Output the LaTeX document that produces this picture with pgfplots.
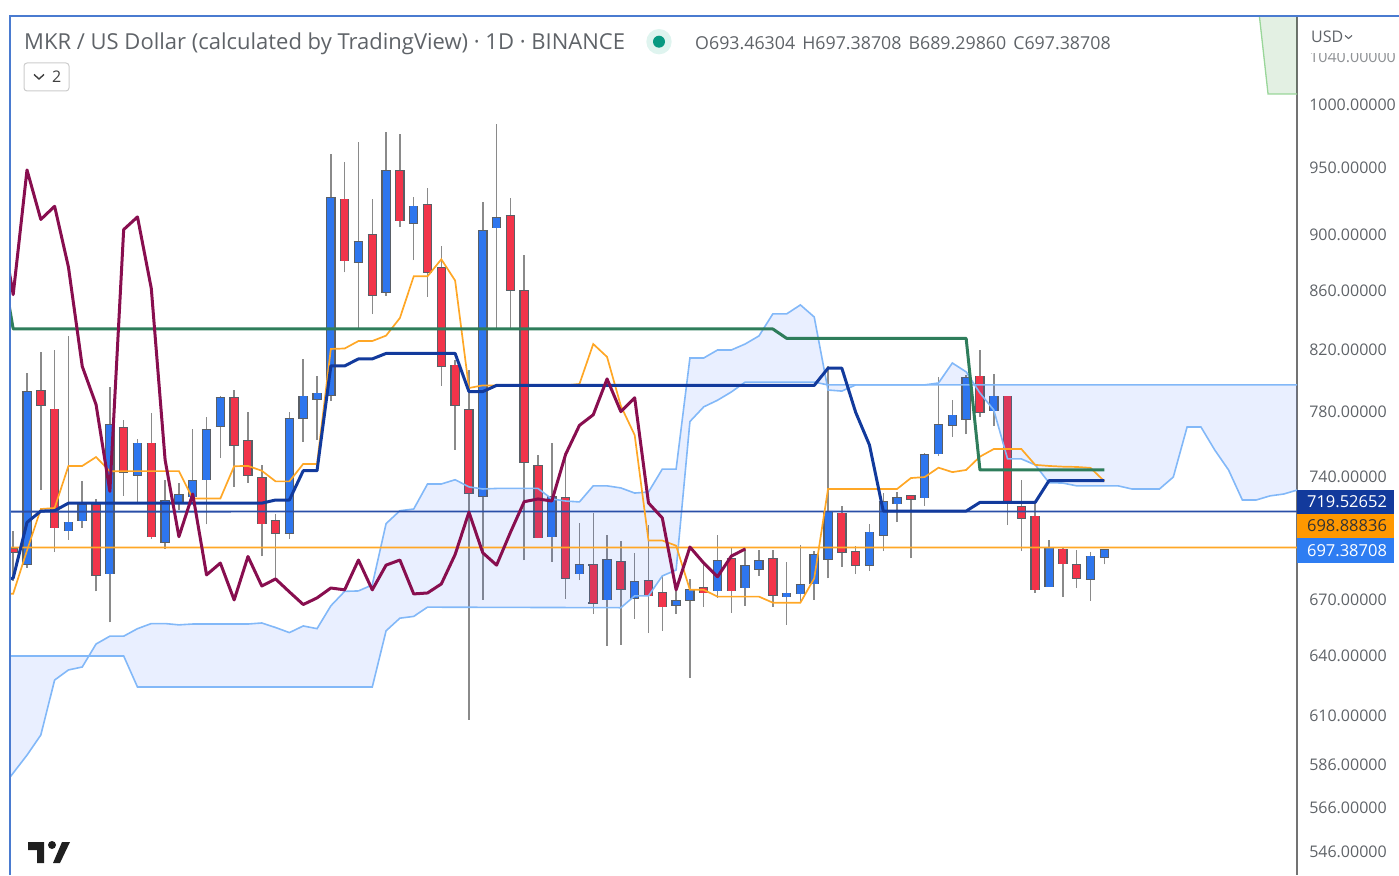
\documentclass[border=0pt]{standalone}
\usepackage{pgfplots}
\usepackage{pgfplotstable}
\usepackage{fontspec}
\setmainfont{Open Sans}
\pgfplotsset{compat=1.18}
\definecolor{cblue}{HTML}{2E76EE}
\definecolor{cred}{HTML}{F2344A}
\definecolor{cedge}{HTML}{5A5F66}
\definecolor{cwick}{HTML}{8A8A8A}
\definecolor{kumo}{HTML}{82B8F8}
\definecolor{kumofill}{HTML}{2962FF}
\definecolor{corange}{HTML}{FFA726}
\definecolor{cnavy}{HTML}{123A9C}
\definecolor{clevel}{HTML}{2A4FA8}
\definecolor{cgreen}{HTML}{2E7D5B}
\definecolor{cmaroon}{HTML}{880E4F}
\definecolor{txt}{HTML}{5F6368}
\definecolor{border}{HTML}{4A7BD0}
\definecolor{plabel}{HTML}{2E7DF2}
\definecolor{olabel}{HTML}{FF9800}
\definecolor{dotbg}{HTML}{DFF4EF}
\definecolor{dotfg}{HTML}{089981}
\pgfplotstableread{
i o h l c
0 689.4 805 687.4 792.7
3 708.4 829.6 703.3 713.2
4 714.2 737.3 710.1 723.6
6 684.2 795.9 657.7 771.8
8 741.1 763.3 724.6 760.4
10 702 738.3 698.2 725.7
11 724.6 736.3 720.5 729.2
12 728.2 769.5 726.9 737.7
13 738.3 776.8 712.1 768.8
14 770.9 790.1 751.3 788.9
19 706.8 780.1 703.9 775.6
20 776.2 814.1 761.5 789.8
21 787.9 803 762.6 791.9
22 790.7 961.4 786.9 927.6
24 880.2 970.5 834.8 895
26 859.5 978.4 856.9 948.2
28 908.5 927.9 882 921.2
33 728.7 924.5 669.8 903.1
34 905.3 984.7 834.8 912.6
38 705 760.6 690.9 728.1
40 684.3 713 680.7 689
42 670 706.2 645.4 692
44 670.9 695.7 659.7 679.6
47 667.1 675.3 662.2 669.3
48 669.8 681.3 629 675.3
50 674.9 705.9 670.9 691.4
52 676.5 698.5 666.7 688.5
53 686.8 697.4 683.1 691.4
55 671.6 690.9 656.4 673.4
56 673.2 700.3 668.9 678
57 678.7 697 669.8 694.6
58 692.4 809.5 681.6 719
61 689 712.1 685.7 707.5
62 705.9 730.3 696.9 725.1
63 724.1 731.2 713.3 727.5
65 727.7 754.5 723 753.2
66 753.9 802.2 752.8 771.8
67 771.8 787.5 764.4 778
68 775.3 803.6 766 801.9
70 780.8 804.1 771.3 789.9
74 677 703.1 677 698.7
77 681.1 696.5 669.3 693.9
78 693.46 697.39 689.3 697.39
}\upcandles
\pgfplotstableread{
i o h l c
-1 698.2 708 680.2 696.3
1 793.5 818.7 732.4 784.3
2 781.6 820 696.3 710.1
5 723.6 727.1 674.5 683.5
7 770 774.9 728.8 743
9 760.4 779.4 703.9 705
15 788.9 793.7 734 759.4
16 762 780.1 736.6 741.1
17 739.4 747.4 693.8 712.5
18 714.2 717.9 681.8 706.8
23 926.5 955 873.2 881.5
25 900.2 926.5 844.1 857.4
27 948.2 976.6 906 910.6
29 922.3 934.6 856.1 873.2
30 876.4 891.9 796.7 809.2
31 809.9 813.4 756.3 784.3
32 781.2 806.9 607.8 730.4
35 913.9 927.5 834.8 860.9
36 860.2 885.8 691.8 749
37 746.6 753.3 704 704.4
39 727.7 753.3 670.3 681.8
41 689 718.8 662.2 668.2
43 690.7 702.8 646 675.8
45 680.2 711.9 652 672.1
46 673.6 683.5 653.2 666.1
49 676.5 690.1 666.2 673.8
51 692.4 699.1 662.9 674.9
54 692.4 697.4 666.2 672.5
59 718.5 722.8 688.1 696.1
60 696.4 699.7 684 689
64 728.7 729.2 692.8 726.7
69 802.8 820 776.6 779.9
71 789.9 789.9 711.6 725.3
72 722.4 738.1 696.9 715.8
73 716.8 725.1 673.8 675.4
75 697.9 698.5 671.6 689.7
76 689 697.4 676.2 681.8
}\downcandles
\pgfplotstableread{
i p
-2 573.8
-1 582.2
0 590.7
1 600.4
2 627.7
3 632.9
4 634.4
5 646.3
6 650.4
7 650.4
8 654.4
9 657.1
10 657.1
11 656.4
12 656.9
16 656.9
17 657.4
18 655
19 652.3
20 655.8
21 654.4
22 666.6
23 674.5
24 674.7
25 678
26 712.5
27 720
28 721
29 735.7
30 735.7
31 738.3
32 734
33 732.8
34 733.1
37 733.1
38 726.9
39 725.7
40 725.1
41 734.6
42 734.6
43 733.4
44 730.4
45 731
46 744.7
47 744.7
48 814.7
49 814.7
50 820
51 820
52 824
53 829.4
54 844.3
55 844.3
56 850.5
57 842.2
58 794
59 793.3
60 797.2
65 797.2
66 798.5
67 811.4
68 805.6
69 792
70 781.2
71 750.8
72 750.8
73 747.2
74 736.5
75 736.3
76 734.6
79 734.6
80 732.8
82 732.8
83 739.9
84 770.5
85 770.5
86 756.3
87 744.1
88 726.3
89 726.3
90 728.7
91 729.8
92 732.2
}\spanA
\pgfplotstableread{
i p
-2 640.1
7 640.1
8 624.2
25 624.2
26 653.3
27 660
28 660.9
29 665.9
43 665.6
44 672
45 672
46 682.9
47 686.2
48 773.9
49 783.2
50 787.5
51 792.7
52 799.1
57 799.1
58 797.2
92 797.2
}\spanB
\pgfplotstableread{
i p
-2 573.8
-1 582.2
0 590.7
1 600.4
2 627.7
3 632.9
4 634.4
5 646.3
6 650.4
7 650.4
8 654.4
9 657.1
10 657.1
11 656.4
12 656.9
16 656.9
17 657.4
18 655
19 652.3
20 655.8
21 654.4
22 666.6
23 674.5
24 674.7
25 678
26 712.5
27 720
28 721
29 735.7
30 735.7
31 738.3
32 734
33 732.8
34 733.1
37 733.1
38 726.9
39 725.7
40 725.1
41 734.6
42 734.6
43 733.4
44 730.4
45 731
46 744.7
47 744.7
48 814.7
49 814.7
50 820
51 820
52 824
53 829.4
54 844.3
55 844.3
56 850.5
57 842.2
58 794
59 793.3
60 797.2
65 797.2
66 798.5
67 811.4
68 805.6
69 792
70 781.2
71 750.8
72 750.8
73 747.2
74 736.5
75 736.3
76 734.6
79 734.6
80 732.8
82 732.8
83 739.9
84 770.5
85 770.5
86 756.3
87 744.1
88 726.3
89 726.3
90 728.7
91 729.8
92 732.2
92 797.2
58 797.2
57 799.1
52 799.1
51 792.7
50 787.5
49 783.2
48 773.9
47 686.2
46 682.9
45 672
44 672
43 665.6
29 665.9
28 660.9
27 660
26 653.3
25 624.2
8 624.2
7 640.1
-2 640.1
}\kumopoly
\pgfplotstableread{
i p
-2 673.2
-1 673.2
0 697.2
1 721
2 721.6
3 746.6
4 746.6
5 752
6 743.3
7 743.5
11 743.5
12 727.1
14 727.1
15 746.4
16 746.6
17 743.7
18 737.3
19 737.3
20 747.8
21 747.8
22 820.7
23 821
24 826
25 826
26 829.6
27 841.5
28 870.4
29 870.4
30 882.5
31 867.4
32 795.2
33 796.9
39 796.9
40 797.8
41 824
42 815.4
43 783.8
44 765.5
45 702.8
46 702.8
47 699.9
48 675.3
49 675.3
50 671.6
53 671.6
54 668.3
56 668.3
57 681.6
58 732.8
63 732.8
64 739.3
65 739.9
66 745.5
67 742.9
68 744.1
69 752.2
70 756.9
72 756.9
73 747.2
74 746.6
75 746.2
76 746
77 745.4
78 737.5
}\tenkan
\pgfplotstableread{
i p
-2 679.6
-1 681.8
0 713.2
1 719.8
2 720
3 724.4
17 724.4
18 726.3
19 726.3
20 743.7
21 743.7
22 809.5
23 809.5
24 814.1
25 814.1
26 817.7
31 817.7
32 793
33 793
34 796.9
57 796.9
58 808
59 808
60 779.8
61 759.4
62 719.8
68 719.8
69 724.9
73 724.9
74 737.7
78 737.7
}\kijun
\pgfplotstableread{
i p
-2 890
-1 834.1
54 834.1
55 827.8
68 827.8
69 744.1
78 744.1
}\chikouG
\pgfplotstableread{
i p
-2 915
-1 857.6
0 948.7
1 911.4
2 921.2
3 877
4 809.2
5 784.6
6 731.4
7 904
8 913.3
9 861.9
10 750.2
11 705
12 729.8
13 683.5
14 690.1
15 669.8
16 693.8
17 677.4
18 681.3
19 674.2
20 667.3
21 670.9
22 676.3
23 675.3
24 691.8
25 675.3
26 689
27 691.8
28 673.1
29 673.6
30 678.5
31 694.9
32 719.2
33 695.9
34 689
35 707.4
36 725.3
37 726.9
38 725.7
39 753.6
40 771.5
41 778.2
42 801
43 780.2
44 789
45 724.5
46 715.8
47 675.3
48 699.1
49 690.1
50 682.5
51 694
52 698
}\maroonline
\pgfplotstableread{
i p
-2 719.5
93 719.55
}\levelA
\pgfplotstableread{
i p
-2 698.86
93 698.91
}\levelB
\begin{document}
\begin{tikzpicture}[x=1pt,y=1pt]
\useasboundingbox (0,0) rectangle (1399,875);
\begin{axis}[
  at={(10pt,0pt)},anchor=south west,
  scale only axis,width=1287pt,height=859pt,
  ymode=log,
  xmin=-1.231,xmax=91.96,ymin=536.1,ymax=1074.7,
  axis x line=none,
  axis y line=right,
  axis line style={-,draw=black!55,line width=1.2pt},
  xtick=\empty,
  ytick={546,566,586,610,640,670,740,780,820,860,900,950,1000,1040},
  yticklabels={546.00000,566.00000,586.00000,610.00000,640.00000,670.00000,740.00000,780.00000,820.00000,860.00000,900.00000,950.00000,1000.00000,1040.00000},
  yticklabel style={anchor=west,inner sep=0pt,xshift=12pt,text=txt,font=\fontsize{16}{18}\selectfont},
  major tick length=0pt,
  minor tick num=0,
  yminorticks=false,
  clip=true,
]
% wicks
\addplot[draw=none,no marks,forget plot,error bars/.cd,y dir=plus,y explicit,error mark=none,error bar style={line width=1.5pt,draw=cwick}] table[x=i,y=l,y error plus expr=\thisrow{h}-\thisrow{l}]{\upcandles};
\addplot[draw=none,no marks,forget plot,error bars/.cd,y dir=plus,y explicit,error mark=none,error bar style={line width=1.5pt,draw=cwick}] table[x=i,y=l,y error plus expr=\thisrow{h}-\thisrow{l}]{\downcandles};
% bodies: edge, then fill
\addplot[draw=none,no marks,forget plot,error bars/.cd,y dir=both,y explicit,error mark=-,error mark options={mark size=4.75pt,line width=1.3pt,draw=cedge,rotate=90},error bar style={line width=9.5pt,draw=cedge}] table[x=i,y=o,y error plus expr=\thisrow{c}-\thisrow{o},y error minus expr=0]{\upcandles};
\addplot[draw=none,no marks,forget plot,error bars/.cd,y dir=plus,y explicit,error mark=none,error bar style={line width=7pt,draw=cblue}] table[x=i,y=o,y error plus expr=\thisrow{c}-\thisrow{o}]{\upcandles};
\addplot[draw=none,no marks,forget plot,error bars/.cd,y dir=both,y explicit,error mark=-,error mark options={mark size=4.75pt,line width=1.3pt,draw=cedge,rotate=90},error bar style={line width=9.5pt,draw=cedge}] table[x=i,y=c,y error plus expr=\thisrow{o}-\thisrow{c},y error minus expr=0]{\downcandles};
\addplot[draw=none,no marks,forget plot,error bars/.cd,y dir=plus,y explicit,error mark=none,error bar style={line width=7pt,draw=cred}] table[x=i,y=c,y error plus expr=\thisrow{o}-\thisrow{c}]{\downcandles};
% cloud
\addplot[fill=kumofill,fill opacity=0.10,draw=none,forget plot] table[x=i,y=p]{\kumopoly};
\addplot[draw=kumo,line width=1.6pt] table[x=i,y=p]{\spanA};
\addplot[draw=kumo,line width=1.6pt] table[x=i,y=p]{\spanB};
% upper green cloud
\addplot[draw=green!60!black!40,fill=green!45!black,fill opacity=0.11,line width=1.3pt] coordinates {(89.0,1100)(89.86,1008.9)(93,1008.9)(93,1100)};
% horizontal levels
\addplot[draw=clevel,line width=1.8pt] table[x=i,y=p]{\levelA};
\addplot[draw=corange,line width=1.8pt] table[x=i,y=p]{\levelB};
% indicator lines
\addplot[draw=corange,line width=1.7pt] table[x=i,y=p]{\tenkan};
\addplot[draw=cgreen,line width=3pt,line join=round] table[x=i,y=p]{\chikouG};
\addplot[draw=cnavy,line width=3pt,line join=round] table[x=i,y=p]{\kijun};
\addplot[draw=cmaroon,line width=3pt,line join=round] table[x=i,y=p]{\maroonline};
\end{axis}
% frame
\fill[white] (1298.5,822) rectangle (1399,857.5);
\fill[white,opacity=.3] (1298.5,810) rectangle (1399,822);
\draw[border,line width=2.4pt] (10,0) -- (10,859) -- (1399,859);
% header
\node[anchor=west,inner sep=0pt,text=txt,font=\fontsize{22}{26}\selectfont] at (24,831) {MKR / US Dollar (calculated by TradingView) · 1D · BINANCE};
\fill[dotbg] (659,833.3) circle (12.7);
\fill[dotfg] (659,833.3) circle (6);
\node[anchor=west,inner sep=0pt,text=txt,font=\fontsize{17.8}{20}\selectfont] at (695,832) {O693.46304\hspace{7pt}H697.38708\hspace{7pt}B689.29860\hspace{7pt}C697.38708};
\draw[black!20,line width=1pt,rounded corners=3pt,fill=white] (24,784) rectangle (69,812);
\draw[black!75,line width=1.4pt] (34,800.5) -- (39,796) -- (44,800.5);
\node[anchor=west,inner sep=0pt,text=black!75,font=\fontsize{16}{18}\selectfont] at (52,798) {2};
\node[anchor=west,inner sep=0pt,text=txt,font=\fontsize{16}{18}\selectfont] at (1311,838.5) {USD};
\draw[txt,line width=1.1pt] (1345,839.5) -- (1348.5,836.5) -- (1352,839.5);
% price labels
\fill[cnavy] (1297,361) rectangle (1394,385);
\fill[olabel] (1297,337) rectangle (1394,361);
\fill[plabel] (1297,312) rectangle (1394,337);
\node[anchor=center,inner sep=0pt,text=white,font=\fontsize{16.5}{18}\selectfont] at (1347,373) {719.52652};
\node[anchor=center,inner sep=0pt,text=black!80,font=\fontsize{16.5}{18}\selectfont] at (1347,349) {698.88836};
\node[anchor=center,inner sep=0pt,text=white,font=\fontsize{16.5}{18}\selectfont] at (1347,324.5) {697.38708};
% logo
\fill[black!88] (28,33) -- (44,33) -- (44,12) -- (37,12) -- (37,25) -- (28,25) -- cycle;
\fill[black!88] (52,30) circle (4);
\fill[black!88] (62,33) -- (70,33) -- (60,12) -- (53,12) -- cycle;
\end{tikzpicture}
\end{document}
